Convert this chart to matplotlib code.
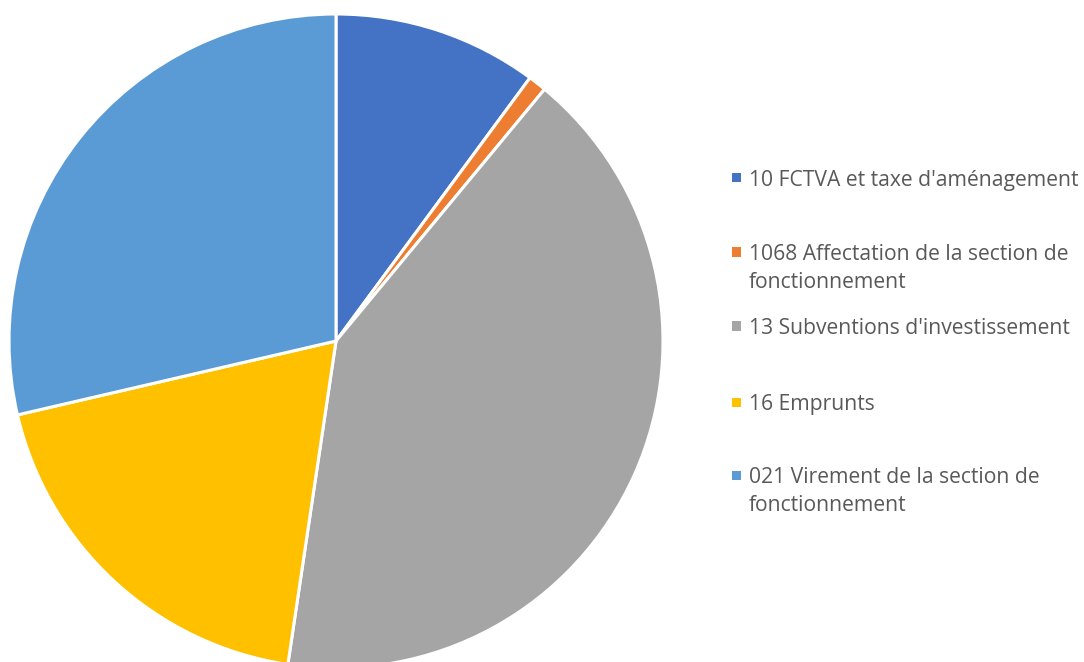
import matplotlib.pyplot as plt
from matplotlib.patches import Rectangle

# data (percent shares)
labels = [
    "10 FCTVA et taxe d'aménagement",
    "1068 Affectation de la section de\nfonctionnement",
    "13 Subventions d'investissement",
    "16 Emprunts",
    "021 Virement de la section de\nfonctionnement",
]
shares = [10.1, 0.9, 41.3, 19.0, 28.6]
colors = ["#4472C4", "#ED7D31", "#A5A5A5", "#FFC000", "#5B9BD5"]

W, H = 1084, 662
fig = plt.figure(figsize=(W / 100, H / 100), dpi=100)

# pie centre (336, 341) px, radius 327 px
cx, cy, r = 336, 341, 327
ax = fig.add_axes([(cx - r) / W, (H - cy - r) / H, 2 * r / W, 2 * r / H])
ax.pie(shares, colors=colors, startangle=90, counterclock=False, radius=1,
       wedgeprops=dict(edgecolor="white", linewidth=2.2))
ax.set_xlim(-1, 1)
ax.set_ylim(-1, 1)
ax.set_aspect("auto")
ax.axis("off")

# legend drawn by hand (Excel spreads entries unevenly)
first_line_y = [178, 252, 326, 402, 475]
text_x = 749
sq = 9
line_h = 28
for lab, col, y in zip(labels, colors, first_line_y):
    fig.patches.append(Rectangle(((text_x - 17) / W, (H - y - sq / 2) / H), sq / W, sq / H,
                                 transform=fig.transFigure, facecolor=col, edgecolor="none"))
    for i, line in enumerate(lab.split("\n")):
        fig.text(text_x / W, (H - y - 8 - i * line_h) / H, line, ha="left", va="baseline",
                 fontsize=15.2, color="#595959", family="Open Sans")

fig.savefig("out.png", dpi=100)
